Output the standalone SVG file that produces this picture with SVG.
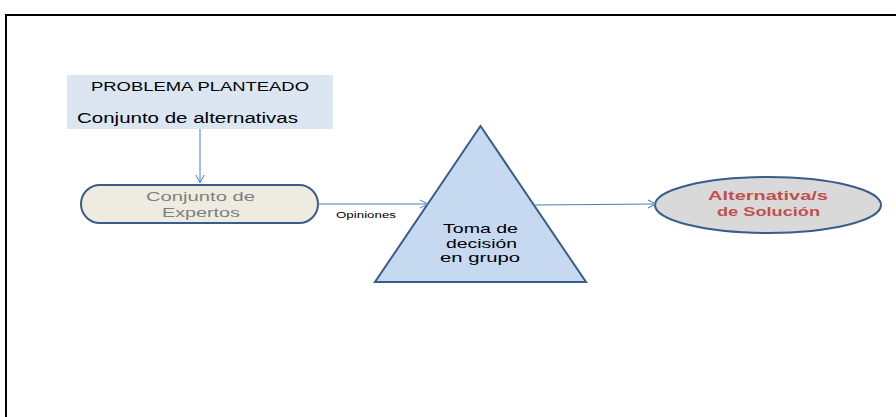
<svg xmlns="http://www.w3.org/2000/svg" width="896" height="417" viewBox="0 0 896 417">
<defs>
<style>
.t{font-family:"Liberation Sans","Open Sans",sans-serif}
.conn{stroke:#4a7ebb;stroke-width:1;fill:none}
.shape{stroke:#385d8a;stroke-width:2}
</style>
<marker id="arr" viewBox="0 0 10 10" refX="9" refY="5" markerWidth="10" markerHeight="10" markerUnits="userSpaceOnUse" orient="auto">
<path d="M1,1 L9,5 L1,9" fill="none" stroke="#4a7ebb" stroke-width="1"/>
</marker>
</defs>
<rect width="896" height="417" fill="#ffffff"/>
<path d="M6,417 V15 H896" fill="none" stroke="#000" stroke-width="2"/>
<g id="problema">
<rect x="67" y="75" width="266" height="54" fill="#dce6f2"/>
<text class="t" x="91" y="91" font-size="12" fill="#000" textLength="218" lengthAdjust="spacingAndGlyphs">PROBLEMA PLANTEADO</text>
<text class="t" x="77" y="123" font-size="14" fill="#000" textLength="221" lengthAdjust="spacingAndGlyphs">Conjunto de alternativas</text>
</g>
<g id="expertos">
<rect class="shape" x="81" y="185" width="237" height="38" rx="19" fill="#eeece1"/>
<text class="t" x="146" y="201" font-size="13" fill="#7f7f7f" textLength="109" lengthAdjust="spacingAndGlyphs">Conjunto de</text>
<text class="t" x="162" y="217" font-size="13" fill="#7f7f7f" textLength="78" lengthAdjust="spacingAndGlyphs">Expertos</text>
</g>
<g id="decision">
<polygon class="shape" points="480.5,126 586,282 375,282" fill="#c6d9f1"/>
<text class="t" x="443" y="233" font-size="13" fill="#000" textLength="75" lengthAdjust="spacingAndGlyphs">Toma de</text>
<text class="t" x="446" y="248" font-size="13" fill="#000" textLength="71" lengthAdjust="spacingAndGlyphs">decisión</text>
<text class="t" x="440" y="262" font-size="13" fill="#000" textLength="80" lengthAdjust="spacingAndGlyphs">en grupo</text>
</g>
<g id="solucion">
<ellipse class="shape" cx="768" cy="205" rx="113" ry="28" fill="#d9d9d9"/>
<text class="t" x="708" y="200" font-size="13" font-weight="bold" fill="#c0504d" textLength="120" lengthAdjust="spacingAndGlyphs">Alternativa/s</text>
<text class="t" x="717" y="216" font-size="13" font-weight="bold" fill="#c0504d" textLength="103" lengthAdjust="spacingAndGlyphs">de Solución</text>
</g>
<g id="connectors">
<line class="conn" x1="200" y1="129" x2="200" y2="183" marker-end="url(#arr)"/>
<line class="conn" x1="318" y1="204" x2="428" y2="204" marker-end="url(#arr)"/>
<text class="t" x="336" y="218" font-size="8.5" fill="#000" textLength="60" lengthAdjust="spacingAndGlyphs">Opiniones</text>
<line class="conn" x1="535" y1="205" x2="656" y2="204" marker-end="url(#arr)"/>
</g>
</svg>
